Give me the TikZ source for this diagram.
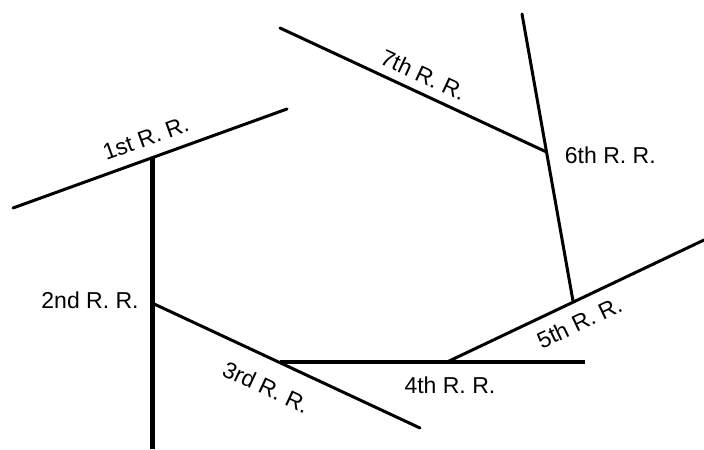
\documentclass[tikz,border=0pt]{standalone}
\usepackage{fontspec}
\setmainfont{Liberation Sans}
\usetikzlibrary{positioning}

\begin{document}
\begin{tikzpicture}[
    x=0.5pt, y=-0.5pt,
    road/.style={line width=1.5pt, line cap=round},
    trunk/.style={line width=2.5pt},
    rrlabel/.style={font=\fontsize{11.5}{13}\selectfont, inner sep=1.5pt}
]
\useasboundingbox (0,0) rectangle (704,449);

% Points
\coordinate (r1_w) at (13,208);
\coordinate (r1_e) at (287,109);
\coordinate (j_12) at (152,158);
\coordinate (r2_s) at (152,449);
\coordinate (j_23) at (152,303);
\coordinate (r3_e) at (420,428);
\coordinate (j_34) at (280,362);
\coordinate (r4_e) at (585,362);
\coordinate (j_45) at (447,362);
\coordinate (r5_e) at (704,240);
\coordinate (j_56) at (573,301);
\coordinate (r6_n) at (522,14);
\coordinate (j_67) at (546.5,152);
\coordinate (r7_w) at (280,28);

% Roads
\draw[road] (r1_w) -- node[rrlabel, sloped, above=4pt, pos=0.51] (rr_first) {1st R. R.} (r1_e);
\draw[trunk] (j_12) -- (r2_s);
\draw[road] (j_23) -- node[rrlabel, sloped, below=7.5pt, pos=0.47] (rr_third) {3rd R. R.} (r3_e);
\draw[line width=2pt] (j_34) -- node[rrlabel, below=5pt, pos=0.557] (rr_fourth) {4th R. R.} (r4_e);
\draw[road] (j_45) -- node[rrlabel, sloped, below=4pt, pos=0.48] (rr_fifth) {5th R. R.} (r5_e);
\draw[road] (r6_n) -- (j_56);
\draw[road] (r7_w) -- node[rrlabel, sloped, above=2.5pt, pos=0.51] (rr_seventh) {7th R. R.} (j_67);

% Side labels
\node[rrlabel, left=5pt of j_23, yshift=1.5pt] (rr_second) {2nd R. R.};
\node[rrlabel, right=7.5pt of j_67, yshift=-1.5pt] (rr_sixth) {6th R. R.};

\end{tikzpicture}
\end{document}
